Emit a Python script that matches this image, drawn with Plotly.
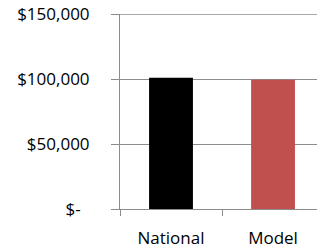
import plotly.graph_objects as go

categories = ["National", "Model"]
values = [101000, 99500]
colors = ["#000000", "#C0504D"]
tick_vals = [0, 50000, 100000, 150000]
tick_text = ["$-\u00a0\u00a0", "$50,000", "$100,000", "$150,000"]

fig = go.Figure(go.Bar(x=categories, y=values, marker_color=colors, width=0.43,
                       marker_line_width=0, hoverinfo="skip"))
fig.update_layout(
    width=317, height=249,
    margin=dict(l=120, r=0, t=14, b=40, autoexpand=False),
    paper_bgcolor="white", plot_bgcolor="white",
    showlegend=False,
    font=dict(family="Open Sans", size=17, color="#000000"),
)
fig.update_yaxes(range=[0, 150000], tickvals=tick_vals, ticktext=tick_text,
                 showgrid=True, gridcolor="#8C8C8C", gridwidth=1,
                 showline=True, linecolor="#8C8C8C", linewidth=1,
                 ticks="outside", ticklen=8, tickcolor="#8C8C8C",
                 zeroline=False, ticklabelstandoff=18, automargin=False,
                 ticklabeloverflow="allow")
fig.update_xaxes(range=[-0.5, 1.431], showline=True, linecolor="#8C8C8C", linewidth=1,
                 ticks="outside", tickson="boundaries", ticklen=6, tickcolor="#8C8C8C",
                 showgrid=False, ticklabelstandoff=14, automargin=False,
                 ticklabeloverflow="allow", mirror=False)
# top gridline at the 150,000 tick (plotly skips gridlines at the range edge)
fig.add_hline(y=tick_vals[-1], line_color="#8C8C8C", line_width=1.5)
fig.write_html("out.html", config={"displayModeBar": False},
               post_script="document.body.style.margin='0';document.body.style.padding='0';")
